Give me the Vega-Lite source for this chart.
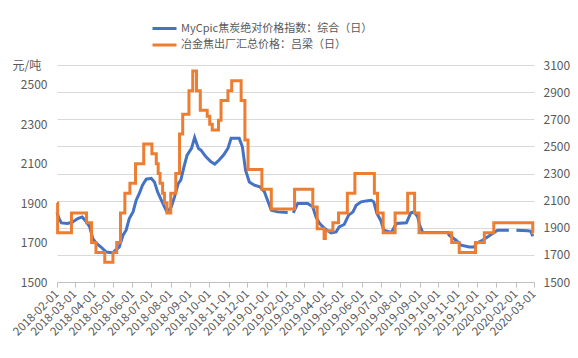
{
  "$schema": "https://vega.github.io/schema/vega-lite/v6.json",
  "width": 477,
  "height": 217,
  "autosize": {"type": "none"},
  "padding": {"left": 57, "top": 65, "right": 44, "bottom": 76},
  "background": "white",
  "config": {
    "font": "Noto Sans CJK SC",
    "view": {"stroke": null},
    "axis": {"labelColor": "#595959", "labelFontSize": 12, "titleColor": "#595959"}
  },
  "datasets": {
    "blue": [
      {"date": "2018-02-01", "value": 2015}, {"date": "2018-02-04", "value": 1970}, {"date": "2018-02-08", "value": 1936},
      {"date": "2018-02-18", "value": 1931}, {"date": "2018-02-26", "value": 1943}, {"date": "2018-03-06", "value": 1968},
      {"date": "2018-03-13", "value": 1980}, {"date": "2018-03-20", "value": 1943}, {"date": "2018-03-25", "value": 1906},
      {"date": "2018-03-30", "value": 1820}, {"date": "2018-04-04", "value": 1788}, {"date": "2018-04-12", "value": 1758},
      {"date": "2018-04-20", "value": 1722}, {"date": "2018-04-25", "value": 1717}, {"date": "2018-05-01", "value": 1717},
      {"date": "2018-05-06", "value": 1739}, {"date": "2018-05-11", "value": 1758}, {"date": "2018-05-17", "value": 1845},
      {"date": "2018-05-22", "value": 1882}, {"date": "2018-05-27", "value": 1968}, {"date": "2018-06-02", "value": 2017},
      {"date": "2018-06-07", "value": 2103}, {"date": "2018-06-12", "value": 2153}, {"date": "2018-06-17", "value": 2214},
      {"date": "2018-06-23", "value": 2258}, {"date": "2018-07-01", "value": 2264}, {"date": "2018-07-06", "value": 2238},
      {"date": "2018-07-11", "value": 2165}, {"date": "2018-07-17", "value": 2103}, {"date": "2018-07-22", "value": 2054},
      {"date": "2018-07-26", "value": 2017}, {"date": "2018-08-02", "value": 2054}, {"date": "2018-08-07", "value": 2128},
      {"date": "2018-08-13", "value": 2227}, {"date": "2018-08-17", "value": 2251}, {"date": "2018-08-22", "value": 2349},
      {"date": "2018-08-27", "value": 2436}, {"date": "2018-09-03", "value": 2485}, {"date": "2018-09-08", "value": 2566},
      {"date": "2018-09-14", "value": 2485}, {"date": "2018-09-18", "value": 2472}, {"date": "2018-09-26", "value": 2423},
      {"date": "2018-10-04", "value": 2386}, {"date": "2018-10-10", "value": 2369}, {"date": "2018-10-17", "value": 2399},
      {"date": "2018-10-24", "value": 2436}, {"date": "2018-10-31", "value": 2485}, {"date": "2018-11-05", "value": 2559},
      {"date": "2018-11-18", "value": 2559}, {"date": "2018-11-23", "value": 2497}, {"date": "2018-11-28", "value": 2325},
      {"date": "2018-12-04", "value": 2238}, {"date": "2018-12-12", "value": 2214}, {"date": "2018-12-21", "value": 2201},
      {"date": "2018-12-28", "value": 2165}, {"date": "2019-01-02", "value": 2103}, {"date": "2019-01-08", "value": 2029},
      {"date": "2019-01-18", "value": 2017}, {"date": "2019-02-03", "value": 2012}, {"date": "2019-02-08", "value": null},
      {"date": "2019-02-12", "value": 2010}, {"date": "2019-02-19", "value": 2079}, {"date": "2019-03-07", "value": 2079},
      {"date": "2019-03-15", "value": 2054}, {"date": "2019-03-20", "value": 1980}, {"date": "2019-03-26", "value": 1931},
      {"date": "2019-04-03", "value": 1894}, {"date": "2019-04-13", "value": 1862}, {"date": "2019-04-21", "value": 1869},
      {"date": "2019-04-26", "value": 1906}, {"date": "2019-05-04", "value": 1924}, {"date": "2019-05-11", "value": 1993},
      {"date": "2019-05-18", "value": 2017}, {"date": "2019-05-23", "value": 2066}, {"date": "2019-05-31", "value": 2091},
      {"date": "2019-06-08", "value": 2098}, {"date": "2019-06-16", "value": 2103}, {"date": "2019-06-20", "value": 2091},
      {"date": "2019-06-25", "value": 2005}, {"date": "2019-07-01", "value": 1956}, {"date": "2019-07-06", "value": 1882},
      {"date": "2019-07-18", "value": 1865}, {"date": "2019-07-26", "value": 1931}, {"date": "2019-08-11", "value": 1936},
      {"date": "2019-08-18", "value": 2010}, {"date": "2019-08-23", "value": 2017}, {"date": "2019-08-29", "value": 1980},
      {"date": "2019-09-01", "value": 1919}, {"date": "2019-09-06", "value": 1865}, {"date": "2019-10-16", "value": 1865},
      {"date": "2019-10-18", "value": 1845}, {"date": "2019-10-29", "value": 1808}, {"date": "2019-11-06", "value": 1771},
      {"date": "2019-11-19", "value": 1758}, {"date": "2019-11-27", "value": 1758}, {"date": "2019-11-30", "value": 1784},
      {"date": "2019-12-10", "value": 1808}, {"date": "2019-12-18", "value": 1832}, {"date": "2019-12-26", "value": 1857},
      {"date": "2020-01-03", "value": 1882}, {"date": "2020-01-14", "value": 1882}, {"date": "2020-01-21", "value": 1882},
      {"date": "2020-01-26", "value": null}, {"date": "2020-02-02", "value": 1882}, {"date": "2020-02-20", "value": 1877},
      {"date": "2020-02-25", "value": 1874}, {"date": "2020-02-28", "value": 1837}
    ],
    "orange": [
      {"date": "2018-02-01", "value": 1900}, {"date": "2018-02-02", "value": 1750}, {"date": "2018-02-24", "value": 1850},
      {"date": "2018-03-20", "value": 1800}, {"date": "2018-03-28", "value": 1700}, {"date": "2018-04-04", "value": 1650},
      {"date": "2018-04-18", "value": 1600}, {"date": "2018-05-01", "value": 1650}, {"date": "2018-05-07", "value": 1700},
      {"date": "2018-05-13", "value": 1850}, {"date": "2018-05-20", "value": 1950}, {"date": "2018-05-28", "value": 2000},
      {"date": "2018-06-06", "value": 2100}, {"date": "2018-06-19", "value": 2200}, {"date": "2018-07-02", "value": 2150},
      {"date": "2018-07-09", "value": 2100}, {"date": "2018-07-12", "value": 2050}, {"date": "2018-07-15", "value": 2000},
      {"date": "2018-07-19", "value": 1950}, {"date": "2018-07-22", "value": 1900}, {"date": "2018-07-26", "value": 1850},
      {"date": "2018-08-01", "value": 1950}, {"date": "2018-08-09", "value": 2050}, {"date": "2018-08-15", "value": 2250},
      {"date": "2018-08-20", "value": 2350}, {"date": "2018-08-30", "value": 2470}, {"date": "2018-09-05", "value": 2570},
      {"date": "2018-09-11", "value": 2470}, {"date": "2018-09-17", "value": 2370}, {"date": "2018-09-28", "value": 2340},
      {"date": "2018-10-02", "value": 2300}, {"date": "2018-10-06", "value": 2270}, {"date": "2018-10-16", "value": 2320},
      {"date": "2018-10-20", "value": 2420}, {"date": "2018-10-31", "value": 2470}, {"date": "2018-11-06", "value": 2520},
      {"date": "2018-11-21", "value": 2420}, {"date": "2018-11-27", "value": 2220}, {"date": "2018-12-02", "value": 2070},
      {"date": "2018-12-24", "value": 1970}, {"date": "2019-01-08", "value": 1870}, {"date": "2019-02-14", "value": 1970},
      {"date": "2019-03-15", "value": 1880}, {"date": "2019-03-22", "value": 1770}, {"date": "2019-04-02", "value": 1720},
      {"date": "2019-04-04", "value": 1760}, {"date": "2019-04-16", "value": 1800}, {"date": "2019-04-25", "value": 1850},
      {"date": "2019-05-09", "value": 1950}, {"date": "2019-05-21", "value": 2050}, {"date": "2019-06-21", "value": 1950},
      {"date": "2019-06-26", "value": 1850}, {"date": "2019-07-05", "value": 1750}, {"date": "2019-07-24", "value": 1850},
      {"date": "2019-08-13", "value": 1950}, {"date": "2019-08-24", "value": 1850}, {"date": "2019-08-31", "value": 1750},
      {"date": "2019-10-22", "value": 1700}, {"date": "2019-11-03", "value": 1650}, {"date": "2019-11-29", "value": 1700},
      {"date": "2019-12-13", "value": 1750}, {"date": "2019-12-28", "value": 1800}, {"date": "2020-02-28", "value": 1750},
      {"date": "2020-02-29", "value": 1750}
    ]
  },
  "encoding": {
    "x": {
      "field": "date",
      "type": "temporal",
      "scale": {
        "type": "utc",
        "domain": [{"year": 2018, "month": 2, "date": 1, "utc": true}, {"year": 2020, "month": 3, "date": 1, "utc": true}]
      },
      "axis": {
        "title": null,
        "format": "%Y-%m-%d",
        "tickCount": {"interval": "month", "step": 1},
        "labelAngle": -45,
        "labelAlign": "right",
        "labelBaseline": "middle",
        "labelFontSize": 11.5,
        "labelPadding": 5,
        "labelOverlap": false,
        "labelFlush": false,
        "labelBound": false,
        "grid": false,
        "domainColor": "#bfbfbf",
        "tickColor": "#bfbfbf",
        "tickSize": 5
      }
    }
  },
  "layer": [
    {
      "data": {"name": "blue"},
      "mark": {"type": "line", "strokeWidth": 3, "invalid": "break-paths-filter-domains"},
      "encoding": {
        "y": {
          "field": "value",
          "type": "quantitative",
          "scale": {"domain": [1500, 3100], "nice": false, "zero": false},
          "axis": {
            "orient": "right",
            "title": null,
            "format": "d",
            "values": [1500, 1700, 1900, 2100, 2300, 2500, 2700, 2900, 3100],
            "grid": true,
            "gridColor": "#d9d9d9",
            "domain": false,
            "ticks": false,
            "labelPadding": 9
          }
        },
        "color": {
          "datum": "MyCpic焦炭绝对价格指数：综合（日）",
          "type": "nominal",
          "scale": {
            "domain": ["MyCpic焦炭绝对价格指数：综合（日）", "冶金焦出厂汇总价格：吕梁（日）"],
            "range": ["#4472C4", "#ED7D31"]
          },
          "legend": {
            "title": null,
            "orient": "none",
            "legendX": 100,
            "legendY": -44,
            "direction": "vertical",
            "symbolType": "M-2,0H2",
            "symbolSize": 144,
            "symbolStrokeWidth": 3,
            "labelFontSize": 11,
            "labelColor": "#595959",
            "labelLimit": 0,
            "rowPadding": 2.5,
            "labelOffset": 9
          }
        }
      }
    },
    {
      "data": {"name": "orange"},
      "mark": {"type": "line", "strokeWidth": 3, "interpolate": "step-after"},
      "encoding": {
        "y": {
          "field": "value",
          "type": "quantitative",
          "scale": {"domain": [1500, 2600], "nice": false, "zero": false},
          "axis": {
            "orient": "left",
            "title": "元/吨",
            "format": "d",
            "titleAngle": 0,
            "titleX": -45,
            "titleY": 0,
            "titleAlign": "left",
            "titleBaseline": "middle",
            "titleFontSize": 12,
            "titleFontWeight": "normal",
            "values": [1500, 1700, 1900, 2100, 2300, 2500],
            "grid": false,
            "domain": false,
            "ticks": false,
            "labelPadding": 10
          }
        },
        "color": {"datum": "冶金焦出厂汇总价格：吕梁（日）", "type": "nominal"}
      }
    }
  ],
  "resolve": {"scale": {"y": "independent"}}
}
